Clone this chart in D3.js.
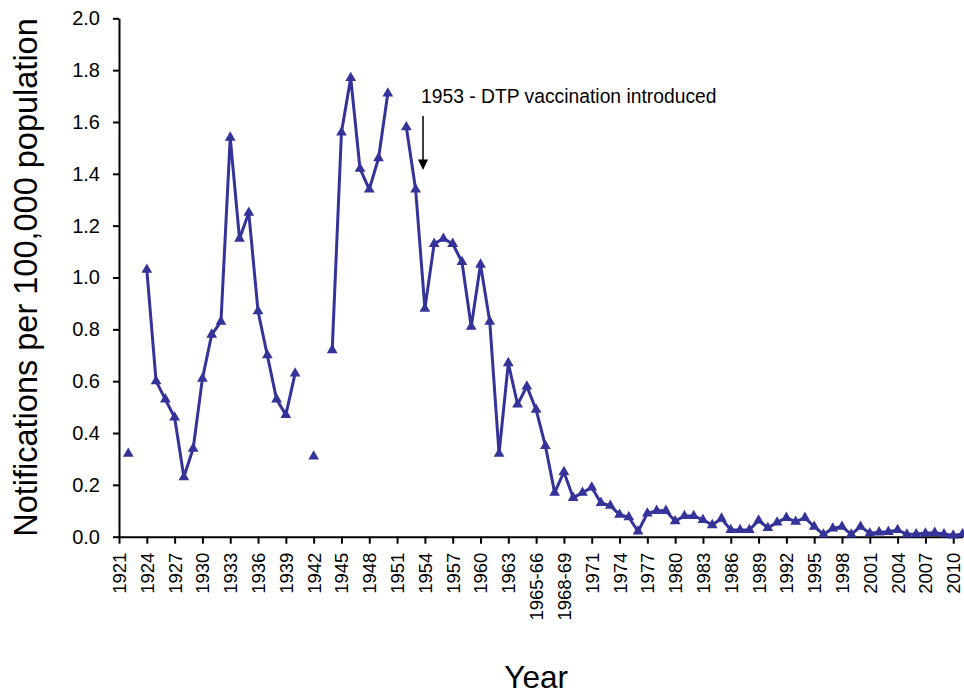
<!DOCTYPE html>
<html>
<head>
<meta charset="utf-8">
<script src="https://cdn.jsdelivr.net/npm/d3@7"></script>
<style>
    body { margin: 0; background: #fff; }
    svg { display: block; font-family: "Liberation Sans", Arial, sans-serif; }
</style>
</head>
<body>
<svg id="chart" width="964" height="695"></svg>
<script>
// categories along the x axis (the 1960s come in financial years)
const years = [
    "1921", "1922", "1923", "1924", "1925", "1926", "1927", "1928", "1929", "1930",
    "1931", "1932", "1933", "1934", "1935", "1936", "1937", "1938", "1939", "1940",
    "1941", "1942", "1943", "1944", "1945", "1946", "1947", "1948", "1949", "1950",
    "1951", "1952", "1953", "1954", "1955", "1956", "1957", "1958", "1959", "1960",
    "1961", "1962", "1963", "1964", "1964-65", "1965-66", "1966-67", "1967-68", "1968-69", "1969-70",
    "1970", "1971", "1972", "1973", "1974", "1975", "1976", "1977", "1978", "1979",
    "1980", "1981", "1982", "1983", "1984", "1985", "1986", "1987", "1988", "1989",
    "1990", "1991", "1992", "1993", "1994", "1995", "1996", "1997", "1998", "1999",
    "2000", "2001", "2002", "2003", "2004", "2005", "2006", "2007", "2008", "2009",
    "2010", "2011"
];

// notifications per 100,000 population (null = no data that year)
const rates = [
    null, 0.32, null, 1.03, 0.60, 0.53, 0.46, 0.23, 0.34, 0.61,
    0.78, 0.83, 1.54, 1.15, 1.25, 0.87, 0.70, 0.53, 0.47, 0.63,
    null, 0.31, null, 0.72, 1.56, 1.77, 1.42, 1.34, 1.46, 1.71,
    null, 1.58, 1.34, 0.88, 1.13, 1.15, 1.13, 1.06, 0.81, 1.05,
    0.83, 0.32, 0.67, 0.51, 0.58, 0.49, 0.35, 0.17, 0.25, 0.15,
    0.17, 0.19, 0.13, 0.12, 0.085, 0.075, 0.02, 0.09, 0.10, 0.10,
    0.06, 0.08, 0.08, 0.065, 0.045, 0.07, 0.026, 0.026, 0.026, 0.063,
    0.034, 0.055, 0.073, 0.058, 0.073, 0.039, 0.009, 0.032, 0.039, 0.009,
    0.039, 0.013, 0.017, 0.019, 0.026, 0.009, 0.010, 0.013, 0.015, 0.010,
    0.005, 0.01
];

// y axis tick values
const yTicks = [0, 0.2, 0.4, 0.6, 0.8, 1.0, 1.2, 1.4, 1.6, 1.8, 2.0];

// only every third year gets a label
const xTicks = years.filter((d, i) => i % 3 === 0);

const annotation = { year: "1953", text: "1953 - DTP vaccination introduced" };

const svg = d3.select("#chart");
const lineColour = "#333399";

const margin = { top: 18.3, right: 1.5, bottom: 158.3, left: 119 };
const width = 964;
const height = 695;

const xScale = d3.scalePoint()
    .domain(years)
    .range([margin.left, width - margin.right]);

const yScale = d3.scaleLinear()
    .domain([0, 2])
    .range([height - margin.bottom, margin.top]);

const data = years.map((y, i) => ({ year: y, value: rates[i] }));

// x axis
svg.append("g")
    .attr("transform", `translate(0,${yScale(0)})`)
    .call(d3.axisBottom(xScale).tickValues(xTicks).tickSize(7).tickSizeOuter(0))
    .call(g => g.select(".domain").attr("stroke", "#000").attr("stroke-width", 2))
    .call(g => g.selectAll(".tick line").attr("stroke", "#000").attr("stroke-width", 2))
    .call(g => g.selectAll(".tick text")
        .attr("transform", "rotate(-90)")
        .attr("x", -16)
        .attr("y", 0)
        .attr("dy", "0.35em")
        .attr("text-anchor", "end")
        .attr("fill", "#000")
        .style("font-size", "18.5px"));

// y axis
svg.append("g")
    .attr("transform", `translate(${margin.left},0)`)
    .call(d3.axisLeft(yScale).tickValues(yTicks).tickFormat(d3.format(".1f")).tickSize(6).tickPadding(13).tickSizeOuter(0))
    .call(g => g.select(".domain").attr("stroke", "#000").attr("stroke-width", 2))
    .call(g => g.selectAll(".tick line").attr("stroke", "#000").attr("stroke-width", 2))
    .call(g => g.selectAll(".tick text").attr("fill", "#000").style("font-size", "20px"));

// axis titles
svg.append("text")
    .attr("transform", "rotate(-90)")
    .attr("x", -(yScale(0) + yScale(2)) / 2)
    .attr("y", 37)
    .attr("text-anchor", "middle")
    .style("font-size", "32.5px")
    .text("Notifications per 100,000 population");

svg.append("text")
    .attr("x", (margin.left + xScale("2010")) / 2)
    .attr("y", 688)
    .attr("text-anchor", "middle")
    .style("font-size", "31.5px")
    .text("Year");

// the line, with gaps where a year has no data
const line = d3.line()
    .defined(d => d.value != null)
    .x(d => xScale(d.year))
    .y(d => yScale(d.value));

svg.append("path")
    .datum(data)
    .attr("fill", "none")
    .attr("stroke", lineColour)
    .attr("stroke-width", 3)
    .attr("stroke-linejoin", "round")
    .attr("d", line);

// triangle markers
svg.append("g")
    .selectAll("path")
    .data(data.filter(d => d.value != null))
    .join("path")
    .attr("transform", d => `translate(${xScale(d.year)},${yScale(d.value)})`)
    .attr("fill", lineColour)
    .attr("d", d3.symbol(d3.symbolTriangle, 50));

// vaccination note with arrow
const ax = xScale(annotation.year) + xScale.step() * 0.8;
svg.append("text")
    .attr("x", ax - 2)
    .attr("y", yScale(1.674))
    .style("font-size", "19.3px")
    .text(annotation.text);

svg.append("line")
    .attr("x1", ax).attr("x2", ax)
    .attr("y1", yScale(1.623)).attr("y2", yScale(1.45))
    .attr("stroke", "#000")
    .attr("stroke-width", 1.5);

svg.append("path")
    .attr("d", `M${ax - 5},${yScale(1.455)} L${ax + 5},${yScale(1.455)} L${ax},${yScale(1.415)} Z`)
    .attr("fill", "#000");
</script>
</body>
</html>
